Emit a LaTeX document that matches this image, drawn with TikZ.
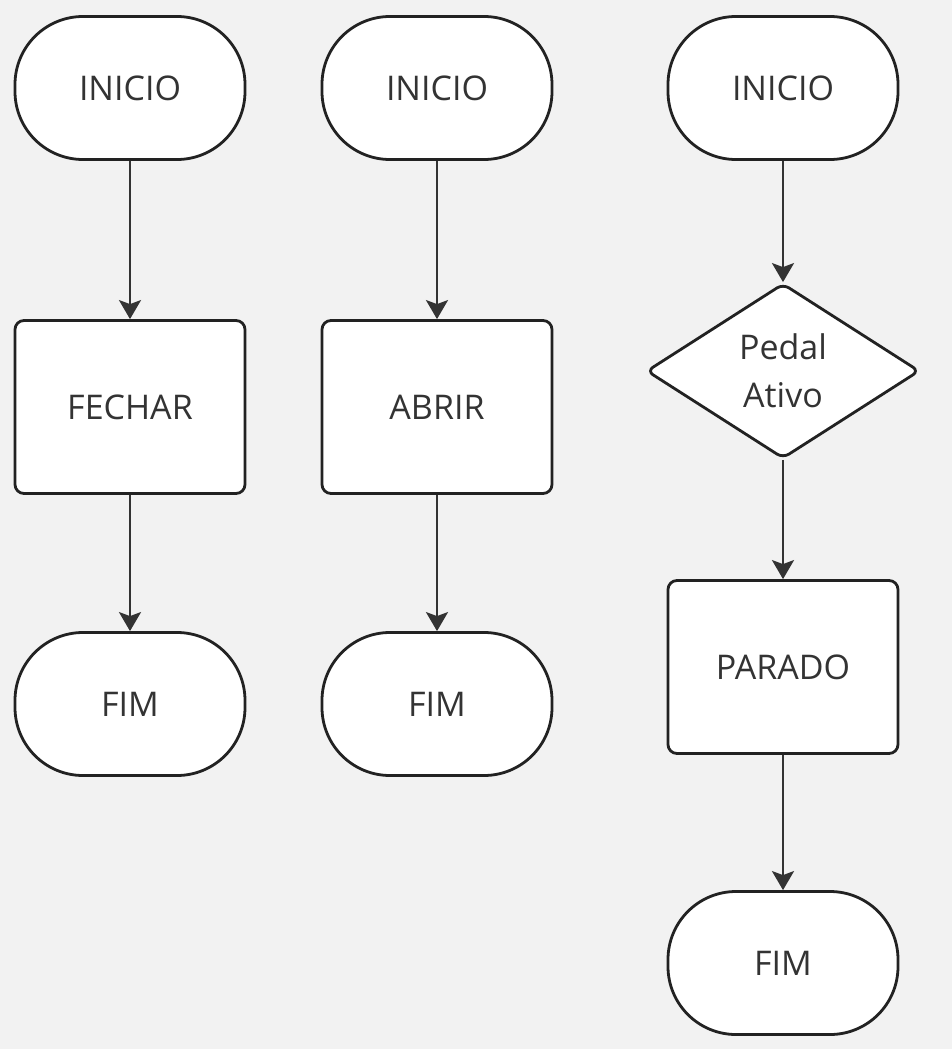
\documentclass[tikz,border=0pt]{standalone}
\usepackage{fontspec}
\setmainfont{Open Sans}
\usetikzlibrary{shapes.geometric,arrows.meta}
\definecolor{bg}{HTML}{F2F2F2}
\definecolor{ink}{HTML}{222222}
\definecolor{txt}{HTML}{333333}
\begin{document}
\begin{tikzpicture}[x=1pt,y=-1pt,
  base/.style={draw=ink,line width=2.8pt,fill=white,text=txt,font=\fontsize{34}{48}\selectfont,inner sep=0pt},
  term/.style={base,rectangle,rounded corners=68pt,minimum width=230pt,minimum height=143pt},
  proc/.style={base,rectangle,rounded corners=9pt,minimum width=230pt,minimum height=173pt},
  dec/.style={base,diamond,aspect=1.56,rounded corners=7pt,minimum width=273pt,minimum height=175pt,align=center},
  conn/.style={draw=txt,line width=2.6pt,-{Stealth[width=22pt,length=19pt,inset=4pt]}}]
\fill[bg] (0,0) rectangle (952,1049);
\useasboundingbox (0,0) rectangle (952,1049);
% column 1
\node[term] (i1) at (130,88) {INICIO};
\node[proc] (p1) at (130,407) {FECHAR};
\node[term] (f1) at (130,704) {FIM};
% column 2
\node[term] (i2) at (437,88) {INICIO};
\node[proc] (p2) at (437,407) {ABRIR};
\node[term] (f2) at (437,704) {FIM};
% column 3
\node[term] (i3) at (783,88) {INICIO};
\node[dec] (d3) at (783,371) {Pedal\\Ativo};
\node[proc] (p3) at (783,667) {PARADO};
\node[term] (f3) at (783,963) {FIM};
\draw[conn] (i1) -- (p1);
\draw[conn] (p1) -- (f1);
\draw[conn] (i2) -- (p2);
\draw[conn] (p2) -- (f2);
\draw[conn] (i3) -- (d3);
\draw[conn] (d3) -- (p3);
\draw[conn] (p3) -- (f3);
\end{tikzpicture}
\end{document}
